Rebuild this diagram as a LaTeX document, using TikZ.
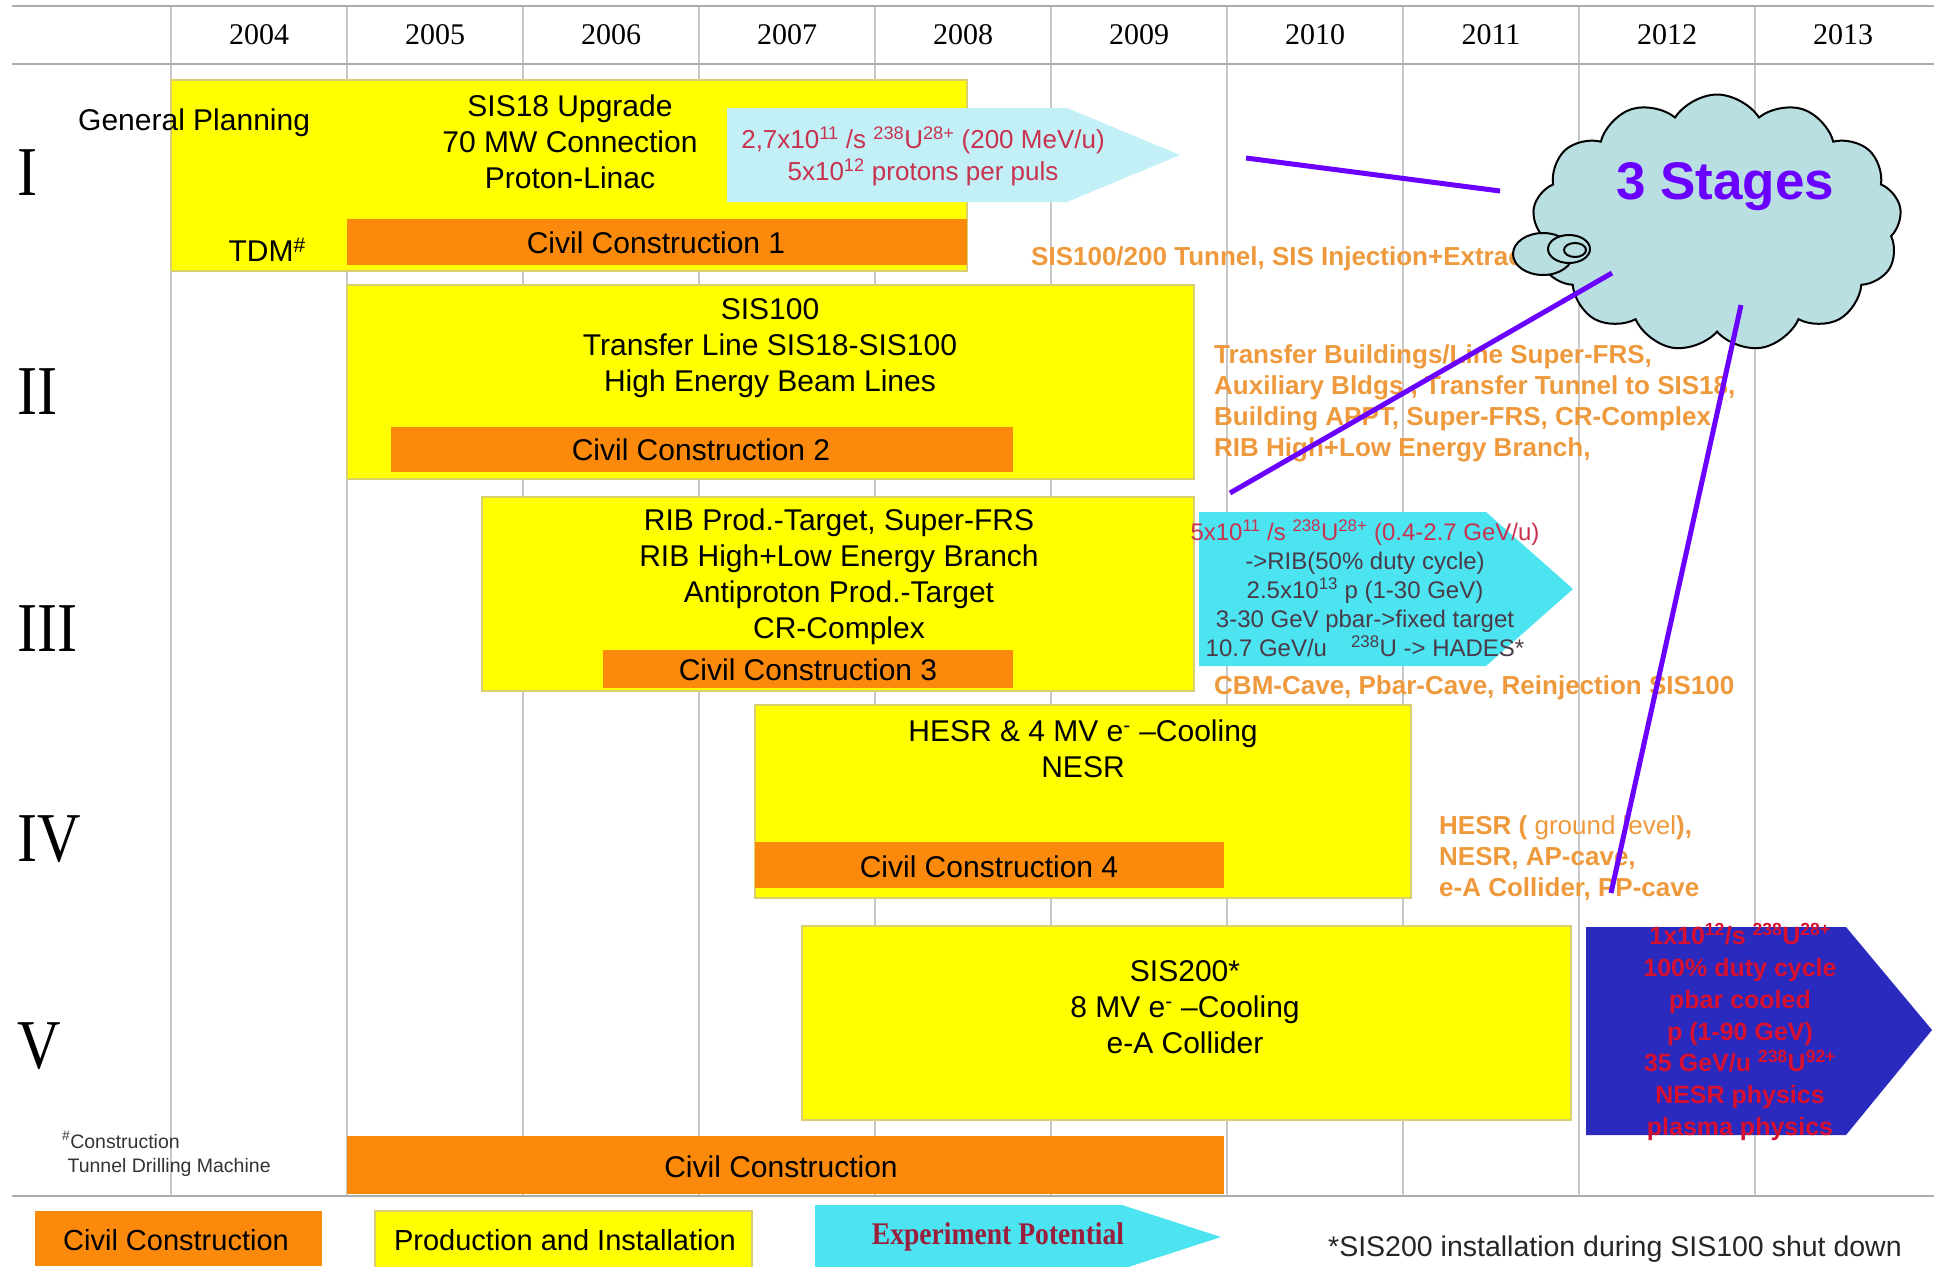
\documentclass[tikz,border=0pt]{standalone}
\usepackage{fontspec}
\setmainfont{Liberation Sans}
\newfontfamily\serifface{Liberation Serif}
\usetikzlibrary{shapes.symbols,shapes.geometric}
\definecolor{ylw}{HTML}{FFFF00}
\definecolor{ylwedge}{HTML}{D9CF70}
\definecolor{org}{HTML}{FB8A0C}
\definecolor{orgtxt}{HTML}{EE9A3C}
\definecolor{lcyan}{HTML}{C2F0F6}
\definecolor{cyn}{HTML}{4CE4F0}
\definecolor{blu}{HTML}{2A2ABF}
\definecolor{gridc}{HTML}{C8C8C8}
\definecolor{cloudc}{HTML}{B9DFE3}
\definecolor{vio}{HTML}{6A00FF}
\definecolor{redtxt}{HTML}{C8324F}
\definecolor{darktxt}{HTML}{4A3A48}
\definecolor{maroontxt}{HTML}{9A1F3C}
\definecolor{bluered}{HTML}{D81030}
\newcommand\myfs[2]{\fontsize{#1}{#2}\selectfont}
\newcommand\rbox[6]{\node[#2, minimum width={(#5)-(#3)}, minimum height={(#6)-(#4)}] (#1) at ({((#3)+(#5))/2},{((#4)+(#6))/2}) {};}
\tikzset{
  ybox/.style={fill=ylw, draw=ylwedge, line width=1.2pt, inner sep=0pt, outer sep=0pt},
  obar/.style={fill=org, draw=none, inner sep=0pt, outer sep=0pt},
  mtxt/.style={font=\myfs{30}{36}, align=center, text=black, inner sep=0pt},
  otxt/.style={font=\bfseries\myfs{26}{31}, align=left, text=orgtxt, inner sep=0pt, anchor=west},
  romanlbl/.style={font=\serifface\myfs{70}{72}, anchor=west, inner sep=0pt},
  yearlbl/.style={font=\serifface\myfs{30}{30}, inner sep=0pt},
  gridline/.style={draw=gridc, line width=1.5pt},
  hline/.style={draw=gray!65, line width=2.5pt},
  purp/.style={draw=vio, line width=5pt},
  tailbub/.style={ellipse, draw=black, fill=cloudc, line width=2pt, inner sep=0pt},
}
\begin{document}
\begin{tikzpicture}[x=1pt,y=-1pt]
\useasboundingbox (0,0) rectangle (1934,1266);
\fill[white] (0,0) rectangle (1934,1266);
% grid
\foreach \gx in {171,347,523,699,875,1051,1227,1403,1579,1755}
  \draw[gridline] (\gx,6) -- (\gx,1196);
\draw[hline] (12,6) -- (1934,6);
\draw[hline] (12,64) -- (1934,64);
\draw[hline] (12,1196) -- (1934,1196);
% years
\foreach \yr [count=\i from 0] in {2004,2005,2006,2007,2008,2009,2010,2011,2012,2013}
  \node[yearlbl] (yr\i) at ({259+176*\i},35) {\yr};
% roman numerals
\node[romanlbl] (rI) at (17,173) {\scalebox{0.86}[1]{I}};
\node[romanlbl] (rII) at (17,392) {\scalebox{0.86}[1]{II}};
\node[romanlbl] (rIII) at (17,629) {\scalebox{0.86}[1]{III}};
\node[romanlbl] (rIV) at (17,839) {\scalebox{0.86}[1]{IV}};
\node[romanlbl] (rV) at (17,1046) {\scalebox{0.86}[1]{V}};

% ---- Stage I
\rbox{yI}{ybox}{171}{80}{967}{271}
\rbox{oI}{obar}{347}{219}{967}{265}
\node[mtxt] (toI) at (656,243) {Civil Construction 1};
\node[mtxt, anchor=west] (gp) at (78,123) {General Planning};
\node[mtxt] (tI) at (570,142) {SIS18 Upgrade\\70 MW Connection\\Proton-Linac};
\node[mtxt, anchor=east] (tdm) at (306,250) {TDM\textsuperscript{\#}};
\fill[lcyan] (727,108) -- (1067,108) -- (1180,155) -- (1067,202) -- (727,202) -- cycle;
\node[font=\myfs{26}{32}, align=center, text=redtxt, inner sep=0pt] (aI) at (923,156)
  {2,7x10\textsuperscript{11} /s \textsuperscript{238}U\textsuperscript{28+} (200 MeV/u)\\5x10\textsuperscript{12} protons per puls};
\node[otxt] (oxI) at (1031,259) {SIS100/200 Tunnel, SIS Injection+Extraction};

% ---- Stage II
\rbox{yII}{ybox}{347}{285}{1194}{479}
\rbox{oII}{obar}{391}{427}{1013}{472}
\node[mtxt] (toII) at (701,450) {Civil Construction 2};
\node[mtxt] (tII) at (770,348) {SIS100\\Transfer Line SIS18-SIS100\\High Energy Beam Lines};
\node[otxt] (oxII) at (1214,403) {Transfer Buildings/Line Super-FRS,\\Auxiliary Bldgs., Transfer Tunnel to SIS18,\\Building APPT, Super-FRS, CR-Complex\\RIB High+Low Energy Branch,};

% ---- Stage III
\rbox{yIII}{ybox}{482}{497}{1194}{691}
\rbox{oIII}{obar}{603}{650}{1013}{688}
\node[mtxt] (toIII) at (808,670) {Civil Construction 3};
\node[mtxt] (tIII) at (839,577) {RIB Prod.-Target, Super-FRS\\RIB High+Low Energy Branch\\Antiproton Prod.-Target\\CR-Complex};
\fill[cyn] (1199,512) -- (1486,512) -- (1573,589) -- (1486,666) -- (1199,666) -- cycle;
\node[font=\myfs{24}{29}, align=center, text=darktxt, inner sep=0pt] (aIII) at (1365,588)
  {\textcolor{redtxt}{5x10\textsuperscript{11} /s \textsuperscript{238}U\textsuperscript{28+} (0.4-2.7 GeV/u)}\\->RIB(50\% duty cycle)\\2.5x10\textsuperscript{13} p (1-30 GeV)\\3-30 GeV pbar->fixed target\\10.7 GeV/u\quad\textsuperscript{238}U -> HADES*};
\node[otxt] (oxIII) at (1214,688) {CBM-Cave, Pbar-Cave, Reinjection SIS100};

% ---- Stage IV
\rbox{yIV}{ybox}{755}{705}{1411}{898}
\rbox{oIV}{obar}{755}{842}{1224}{888}
\node[mtxt] (toIV) at (989,867) {Civil Construction 4};
\node[mtxt] (tIV) at (1083,749) {HESR \& 4 MV e\textsuperscript{-} --Cooling\\NESR};
\node[otxt] (oxIV) at (1439,858) {HESR ( {\mdseries ground level}),\\NESR, AP-cave,\\e-A Collider, PP-cave};

% ---- Stage V
\rbox{yV}{ybox}{802}{926}{1571}{1120}
\node[mtxt] (tV) at (1185,1007) {SIS200*\\8 MV e\textsuperscript{-} --Cooling\\e-A Collider};
\fill[blu] (1586,927) -- (1846,927) -- (1932,1030) -- (1846,1135) -- (1586,1135) -- cycle;
\node[font=\bfseries\myfs{25}{31.7}, align=center, text=bluered, inner sep=0pt] (aV) at (1740,1032)
  {1x10\textsuperscript{12}/s \textsuperscript{238}U\textsuperscript{28+}\\100\% duty cycle\\pbar cooled\\p (1-90 GeV)\\35 GeV/u \textsuperscript{238}U\textsuperscript{92+}\\NESR physics\\plasma physics};

% ---- bottom civil construction
\rbox{oAll}{obar}{347}{1136}{1224}{1194}
\node[mtxt] (toAll) at (781,1167) {Civil Construction};
\node[font=\myfs{19.5}{24}, align=left, text=black!80, inner sep=0pt, anchor=west] (fn) at (62,1154)
  {\textsuperscript{\#}Construction\\\ Tunnel Drilling Machine};

% ---- legend
\rbox{lgO}{obar}{35}{1211}{322}{1266}
\node[mtxt] (lgOt) at (176,1240) {\myfs{29}{30}Civil Construction};
\rbox{lgY}{ybox}{375}{1211}{752}{1268}
\node[mtxt] (lgYt) at (565,1240) {\myfs{29}{30}Production and Installation};
\fill[cyn] (815,1205) -- (1122,1205) -- (1221,1237) -- (1122,1269) -- (815,1269) -- cycle;
\node[font=\serifface\bfseries\myfs{30}{32}, text=maroontxt, inner sep=0pt] (lgA) at (998,1237) {\scalebox{0.92}[1.05]{Experiment Potential}};
\node[font=\myfs{28.5}{30}, text=black!85, inner sep=0pt, anchor=west] (note) at (1328,1249) {*SIS200 installation during SIS100 shut down};

% ---- cloud
\node[cloud, cloud puffs=13, cloud puff arc=115, aspect=1.44, draw=black, line width=2pt, fill=cloudc,
      minimum width=369pt, minimum height=257pt, inner sep=0pt] (cloud) at (1717,223) {};
\node[tailbub, minimum width=60pt, minimum height=42pt] (bub1) at (1543,254) {};
\node[tailbub, minimum width=42pt, minimum height=28pt] (bub2) at (1569,249) {};
\node[tailbub, minimum width=22pt, minimum height=14pt] (bub3) at (1575,250) {};
\node[font=\bfseries\myfs{53}{56}, text=vio, inner sep=0pt] (stages) at (1725,187) {3 Stages};

% ---- purple pointers
\coordinate (p1a) at (1246,158);
\coordinate (p1b) at (1500,191);
\coordinate (p2a) at (1230,493);
\coordinate (p2b) at (1612,273);
\coordinate (p3a) at (1741,305);
\coordinate (p3b) at (1611,893);
\draw[purp] (p1a) -- (p1b);
\draw[purp] (p2a) -- (p2b);
\draw[purp] (p3a) -- (p3b);
\end{tikzpicture}
\end{document}
